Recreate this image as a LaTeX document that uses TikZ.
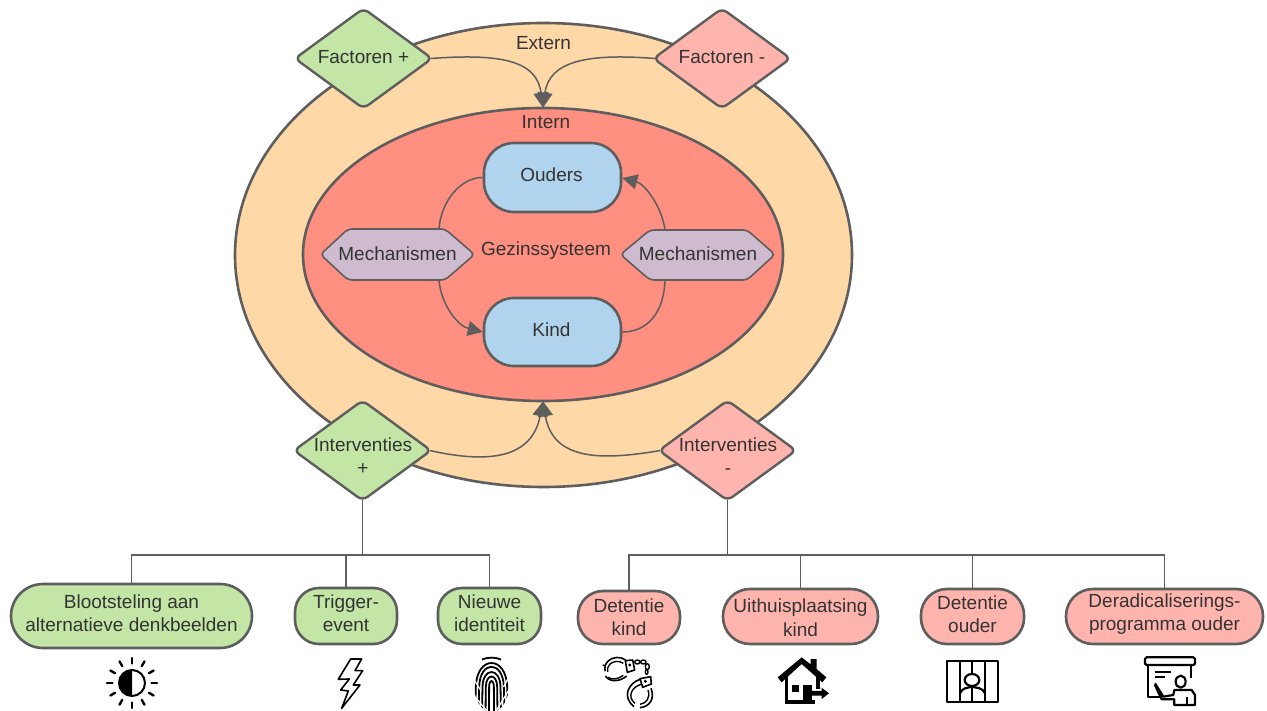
\documentclass[tikz,border=0pt]{standalone}
\usepackage{fontspec}
\setmainfont{Liberation Sans}
\usetikzlibrary{shapes.geometric,arrows.meta}
\definecolor{ln}{HTML}{5E5E5E}
\definecolor{tx}{HTML}{333333}
\definecolor{cOuter}{HTML}{FFD8A8}
\definecolor{cInner}{HTML}{FF8F80}
\definecolor{cGreen}{HTML}{C3E6A6}
\definecolor{cPink}{HTML}{FFB5AD}
\definecolor{cBlue}{HTML}{B1D4EE}
\definecolor{cMauve}{HTML}{CFBBD0}
\tikzset{
  every node/.style={text=tx,font=\fontsize{19}{23.5}\selectfont,inner sep=0pt,align=center},
  oval/.style={ellipse,draw=ln,line width=2.6pt,minimum width=#1},
  dia/.style={diamond,draw=ln,line width=2.4pt,rounded corners=6pt,minimum width=138pt,minimum height=101pt,aspect=1.37},
  pill/.style={rounded corners=#1,draw=ln,line width=2.6pt},
  conn/.style={draw=ln,line width=1.5pt},
  arr/.style={conn,-{Triangle[length=15pt,width=15pt,color=ln]}},
  hexa/.style={draw=ln,line width=1.6pt,fill=cMauve,rounded corners=4pt},
  icon/.style={draw=black,line width=2.2pt,line join=round},
  thin icon/.style={draw=black,line width=1.4pt,line join=round},
}
\begin{document}
\begin{tikzpicture}[x=1pt,y=-1pt]
\useasboundingbox[fill=white] (0,0) rectangle (1267,711);
% ellipses
\node[oval=617pt,minimum height=464pt,fill=cOuter] (outer) at (543.5,255) {};
\node[oval=480pt,minimum height=293pt,fill=cInner] (inner) at (543,254.5) {};
\node (extern) at (543.5,43) {Extern};
\node (intern) at (546,122) {Intern};
\node (gezin) at (546,251) {Gezinssysteem};
% family boxes
\node[pill=30pt,fill=cBlue,minimum width=137pt,minimum height=69pt] (ouders) at (552.5,177.5) {};
\node at (551.5,175) {Ouders};
\node[pill=30pt,fill=cBlue,minimum width=137pt,minimum height=68pt] (kind) at (552.5,332) {};
\node at (551.5,330) {Kind};
% hexagons
\draw[hexa] (320.5,254.5) -- (348,229) -- (445,229) -- (474.5,254.5) -- (445,280) -- (348,280) -- cycle;
\draw[hexa] (620.5,254.5) -- (650,230) -- (747,230) -- (775,254.5) -- (747,280) -- (650,280) -- cycle;
\node (mechL) at (397.5,254) {Mechanismen};
\node (mechR) at (698,254) {Mechanismen};
\coordinate (mLt) at (439,229);
\coordinate (mLb) at (439,280);
\coordinate (mRt) at (665,230);
\coordinate (mRb) at (665,280);
\draw[conn] (mLt) .. controls (441,200) and (462,177) .. (ouders.west);
\draw[arr] (mLb) .. controls (441,305) and (458,326) .. (kind.west);
\draw[arr] (mRt) .. controls (662,207) and (645,184) .. ([yshift=-0.5pt]ouders.east);
\draw[conn] (mRb) .. controls (664,312) and (648,332) .. (kind.east);
% diamonds
\node[dia,fill=cGreen] (fp) at (363.5,58.5) {};
\node[dia,fill=cPink] (fm) at (722,58.5) {};
\node[dia,fill=cGreen] (ip) at (362.5,450.5) {};
\node[dia,fill=cPink] (im) at (727.5,450.5) {};
\node at (363.5,57.5) {Factoren +};
\node at (722,57.5) {Factoren -};
\node at (363,456) {Interventies\\+};
\node at (728,456) {Interventies\\-};
\draw[arr] ([xshift=-3pt]fp.east) .. controls (505,53) and (537,62) .. ([yshift=-1pt]inner.north);
\draw[arr] ([xshift=3pt]fm.west) .. controls (585,53) and (549,62) .. ([yshift=-1pt]inner.north);
\draw[arr] ([xshift=-3pt]ip.east) .. controls (490,464) and (532,458) .. ([yshift=1pt]inner.south);
\draw[arr] ([xshift=3pt]im.west) .. controls (605,460) and (553,462) .. ([yshift=1pt]inner.south);
% lower boxes
\node[pill=32pt,fill=cGreen,minimum width=241pt,minimum height=64pt] (b1) at (131.5,616) {};
\node at (131.5,613) {Blootsteling aan\\alternatieve denkbeelden};
\node[pill=24pt,fill=cGreen,minimum width=102pt,minimum height=56pt] (b2) at (346,616) {};
\node at (346,613) {Trigger-\\event};
\node[pill=24pt,fill=cGreen,minimum width=103pt,minimum height=56pt] (b3) at (489.5,616) {};
\node at (489.5,613) {Nieuwe\\identiteit};
\node[pill=25pt,fill=cPink,minimum width=102pt,minimum height=53pt] (b4) at (629,617.5) {};
\node at (629,617) {Detentie\\kind};
\node[pill=27pt,fill=cPink,minimum width=155pt,minimum height=55pt] (b5) at (800.5,616.5) {};
\node at (800.5,617.5) {Uithuisplaatsing\\kind};
\node[pill=26pt,fill=cPink,minimum width=103pt,minimum height=55pt] (b6) at (972.5,616.5) {};
\node at (972.5,614) {Detentie\\ouder};
\node[pill=27pt,fill=cPink,minimum width=197pt,minimum height=55pt] (b7) at (1164.5,616.5) {};
\node at (1164.5,614) {Deradicaliserings-\\programma ouder};
% trees
\coordinate (jL) at (362.5,555);
\coordinate (jR) at (727.5,555);
\draw[conn] ([yshift=2.5pt]ip.south) -- (jL);
\draw[conn] ([yshift=2.5pt]im.south) -- (jR);
\draw[conn] (b1.north) |- (jL);
\draw[conn] (b2.north) |- (jL);
\draw[conn] (b3.north) |- (jL);
\draw[conn] (b4.north) |- (jR);
\draw[conn] (b5.north) |- (jR);
\draw[conn] (b6.north) |- (jR);
\draw[conn] (b7.north) |- (jR);
% sun
\begin{scope}[shift={(132,683)}]
  \draw[black,line width=2pt,fill=white] (0,0) circle (13);
  \fill[black] (0,-13) arc (-90:-270:13) -- cycle;
  \foreach \a in {0,30,...,330}
    \draw[black,line width=2.4pt,line cap=round] (\a:19.5) -- (\a:25);
\end{scope}
% lightning
\begin{scope}[shift={(90,640)},x=0.3333pt,y=-0.3333pt]
  \draw[thin icon,line width=1.6pt,fill=white] (782,57) -- (815,57) -- (795,92) -- (818,92) -- (790,135) -- (810,135) -- (755,205) -- (775,153) -- (752,150) -- (778,117) -- (745,118) -- cycle;
\end{scope}
% fingerprint
\begin{scope}[shift={(491.5,685)}]
  \clip (0,0) ellipse (17.5 and 27);
  \foreach \r/\h in {2.5/6,6/12,9.5/18,13/25,16.5/30}
    \draw[black,line width=1.8pt] (-\r,30) -- (-\r*0.95,2) .. controls (-\r*0.9,-\h) and (\r*0.9,-\h) .. (\r*0.95,2) -- (\r,30);
  \draw[white,line width=1.3pt] (-18,10) -- (-3,28) (18,4) -- (4,27) (-18,-6) -- (-11,5) (18,-9) -- (12,2);
\end{scope}
\draw[black,line width=1.8pt] (482,659.5) .. controls (488,657) and (495,657) .. (501,659.5);
% handcuffs
\begin{scope}[shift={(590,640)},x=0.3333pt,y=-0.3333pt]
  \draw[thin icon,line width=1.6pt] (107,60) arc (-50:-195:38 and 33);
  \draw[thin icon] (100,70) arc (-50:-195:29 and 25);
  \draw[thin icon] (38,75) -- (47,78);
  \draw[thin icon,line width=1.6pt] (46,108) .. controls (60,128) and (90,125) .. (110,108);
  \draw[thin icon] (54,112) .. controls (66,120) and (84,118) .. (100,106);
  \draw[thin icon,line width=1.6pt,fill=white] (106,62) -- (128,60) -- (134,90) -- (112,97) -- cycle;
  \fill[black] (119,75) circle (5);
  \draw[thin icon] (142,66) ellipse (8 and 6) (160,66) ellipse (8 and 6) (172,80) ellipse (6 and 9) (170,96) ellipse (4 and 7);
  \draw[thin icon,line width=1.6pt] (150,118) .. controls (115,130) and (95,170) .. (132,200);
  \draw[thin icon] (156,132) .. controls (125,140) and (110,170) .. (135,190);
  \draw[thin icon,line width=1.6pt] (150,203) .. controls (180,200) and (195,175) .. (183,145);
  \draw[thin icon] (150,193) .. controls (170,190) and (182,172) .. (174,150);
  \draw[thin icon,line width=1.6pt,fill=white] (150,116) -- (182,110) -- (184,132) -- (158,142) -- cycle;
  \fill[black] (166,124) circle (5);
\end{scope}
% house
\begin{scope}[shift={(590,640)},x=0.3333pt,y=-0.3333pt]
  \fill[black] (635,52) -- (662,73) -- (662,57) -- (680,57) -- (680,87) -- (709,112) -- (697,127) -- (635,72) -- (575,127) -- (563,112) -- cycle;
  \draw[black,line width=3.6pt] (590,108) -- (590,186) -- (676,186) (684,112) -- (684,148);
  \fill[black] (605,135) rectangle (626,156);
  \fill[black] (638,135) rectangle (665,190);
  \fill[black] (665,153) -- (695,153) -- (695,143) -- (717,160) -- (695,177) -- (695,167) -- (665,167) -- cycle;
\end{scope}
% prison
\begin{scope}[shift={(930,640)},x=0.3333pt,y=-0.3333pt]
  \draw[icon] (52,63) rectangle (203,185);
  \draw[icon] (90,63) -- (90,185) (126,63) -- (126,102) (165,63) -- (165,185);
  \draw[icon] (126,120) circle [x radius=22,y radius=18];
  \draw[icon] (90,160) .. controls (100,140) and (112,145) .. (126,140) .. controls (140,145) and (155,140) .. (165,160);
  \draw[icon] (126,138) -- (126,185);
\end{scope}
% presenter
\begin{scope}[shift={(930,640)},x=0.3333pt,y=-0.3333pt]
  \draw[icon,rounded corners=1.5pt] (645,52) rectangle (795,75);
  \draw[icon] (655,75) -- (655,170) -- (690,170);
  \draw[icon] (782,75) -- (782,115);
  \draw[black,line width=1.7pt] (675,95) -- (722,95) (675,110) -- (705,110);
  \draw[icon] (752,125) circle [x radius=15,y radius=18];
  \draw[icon,fill=white] (675,130) -- (700,170) -- (730,165) -- (733,150) -- (785,150) -- (795,165) -- (795,195) -- (733,195) -- (733,178) -- (695,178) -- (675,135);
  \draw[icon] (770,170) -- (770,195);
\end{scope}
\end{tikzpicture}
\end{document}
